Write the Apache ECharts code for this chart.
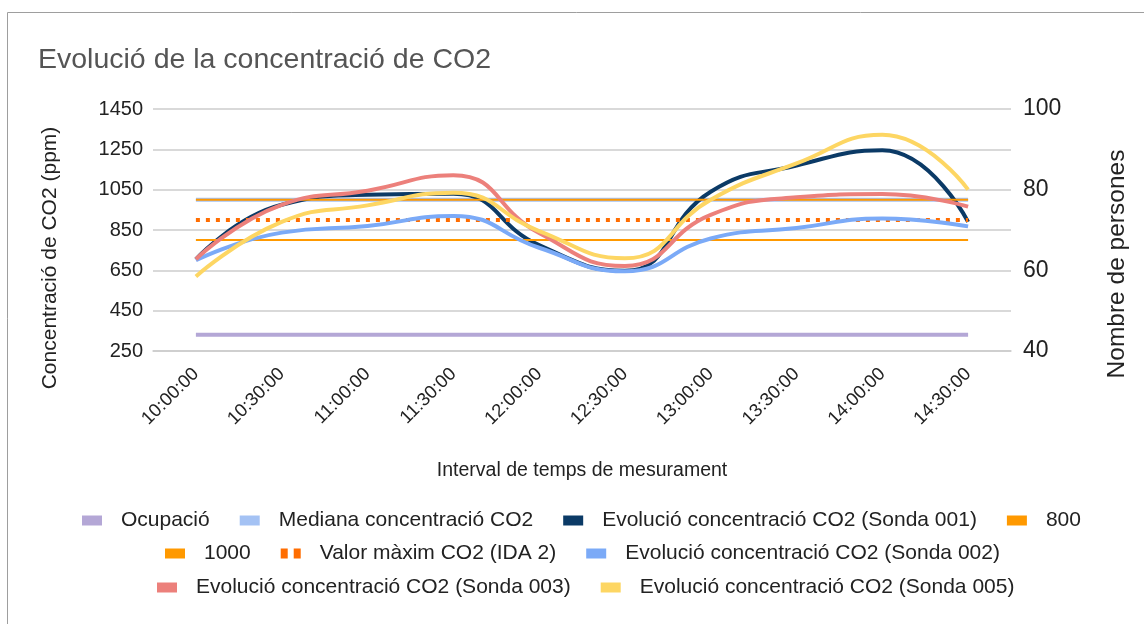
<!DOCTYPE html>
<html>
<head>
<meta charset="utf-8">
<script src="https://cdn.jsdelivr.net/npm/echarts@6/dist/echarts.min.js"></script>
<style>
  html, body { margin: 0; padding: 0; background: #fff; }
  #chart { width: 1144px; height: 624px; }
</style>
</head>
<body>
<div id="chart"></div>
<script>
// dades llegides del gràfic
const categories = ['10:00:00', '10:30:00', '11:00:00', '11:30:00', '12:00:00', '12:30:00', '13:00:00', '13:30:00', '14:00:00', '14:30:00'];
const ocupacio = [44, 44, 44, 44, 44, 44, 44, 44, 44, 44];
const mediana = [1000, 1000, 1000, 1000, 1000, 1000, 1000, 1000, 1000, 1000];
const sonda001 = [705, 975, 1025, 1030, 775, 648, 1040, 1170, 1245, 890];
const limit800 = [800, 800, 800, 800, 800, 800, 800, 800, 800, 800];
const limit1000 = [1000, 1000, 1000, 1000, 1000, 1000, 1000, 1000, 1000, 1000];
const valorMaxim = [900, 900, 900, 900, 900, 900, 900, 900, 900, 900];
const sonda002 = [700, 837, 870, 920, 762, 645, 808, 860, 907, 868];
const sonda003 = [705, 975, 1045, 1122, 835, 672, 925, 1012, 1028, 966];
const sonda005 = [620, 890, 972, 1035, 845, 710, 1000, 1180, 1322, 1050];
const leftTicks = { min: 250, max: 1450, step: 200 };
const rightTicks = { min: 40, max: 100, step: 20 };

const FONT = "'Liberation Sans', Arial, sans-serif";

const lineSerie = (name, data, color, width, extra = {}) => ({
  name,
  type: 'line',
  data,
  color,
  showSymbol: false,
  smooth: extra.smooth ? 0.5 : false,
  yAxisIndex: extra.yAxisIndex || 0,
  lineStyle: { color, width, type: extra.dash || 'solid', cap: 'butt' },
  itemStyle: { color }
});

const legendRow = (left, top, data) => ({
  top,
  left,
  padding: 0,
  icon: 'rect',
  itemWidth: 20,
  itemHeight: 10,
  itemGap: 30,
  data,
  textStyle: { fontFamily: FONT, fontSize: 21, color: '#222', padding: [0, 0, 0, 14] }
});

const chart = echarts.init(document.getElementById('chart'));
const option = {
  animation: false,
  backgroundColor: '#fff',
  graphic: [{
    type: 'rect',
    shape: { x: 7.5, y: 12.5, width: 1200, height: 700 },
    style: { fill: 'none', stroke: '#9e9e9e', lineWidth: 1 }
  }],
  title: {
    text: 'Evolució de la concentració de CO2',
    left: 38,
    top: 46,
    padding: 0,
    textStyle: { fontFamily: FONT, fontSize: 28.5, fontWeight: 'normal', color: '#555' }
  },
  legend: [
    legendRow(82, 510, ['Ocupació', 'Mediana concentració CO2', 'Evolució concentració CO2 (Sonda 001)', '800']),
    legendRow(165, 543, ['1000', { name: 'Valor màxim CO2 (IDA 2)', icon: 'path://M0,0H7V10H0Z M13,0H20V10H13Z' }, 'Evolució concentració CO2 (Sonda 002)']),
    legendRow(157, 577, ['Evolució concentració CO2 (Sonda 003)', 'Evolució concentració CO2 (Sonda 005)'])
  ],
  grid: { left: 153, right: 133, top: 109, bottom: 273 },
  xAxis: {
    type: 'category',
    data: categories,
    boundaryGap: true,
    name: 'Interval de temps de mesurament',
    nameLocation: 'middle',
    nameGap: 110,
    nameTextStyle: { fontFamily: FONT, fontSize: 19.5, color: '#222' },
    axisLine: { show: true, lineStyle: { color: '#ccc', width: 1.5 } },
    axisTick: { show: false },
    axisLabel: { rotate: 45, fontFamily: FONT, fontSize: 18.5, color: '#222', margin: 20 }
  },
  yAxis: [{
    type: 'value',
    min: leftTicks.min,
    max: leftTicks.max,
    interval: leftTicks.step,
    name: 'Concentració de CO2 (ppm)',
    nameLocation: 'middle',
    nameGap: 92,
    nameTextStyle: { fontFamily: FONT, fontSize: 21, color: '#222', padding: [0, 56, 0, 0] },
    axisLine: { show: false },
    axisTick: { show: false },
    axisLabel: { fontFamily: FONT, fontSize: 20, color: '#222', margin: 10, formatter: v => String(v) },
    splitLine: { lineStyle: { color: '#ccc', width: 1.5 } }
  }, {
    type: 'value',
    min: rightTicks.min,
    max: rightTicks.max,
    interval: rightTicks.step,
    name: 'Nombre de persones',
    nameLocation: 'middle',
    nameGap: 94,
    nameTextStyle: { fontFamily: FONT, fontSize: 24.5, color: '#222', padding: [0, 68, 0, 0] },
    axisLine: { show: false },
    axisTick: { show: false },
    axisLabel: { fontFamily: FONT, fontSize: 23, color: '#222', margin: 12 },
    splitLine: { show: false }
  }],
  series: [
    lineSerie('Ocupació', ocupacio, '#b4a7d6', 4, { yAxisIndex: 1 }),
    lineSerie('Mediana concentració CO2', mediana, '#a4c2f4', 4),
    lineSerie('Evolució concentració CO2 (Sonda 001)', sonda001, '#0b3a66', 4, { smooth: true }),
    lineSerie('800', limit800, '#ff9900', 2),
    lineSerie('1000', limit1000, '#ff9900', 2),
    lineSerie('Valor màxim CO2 (IDA 2)', valorMaxim, '#ff6d01', 4, { dash: [4, 6] }),
    lineSerie('Evolució concentració CO2 (Sonda 002)', sonda002, '#7baaf7', 4, { smooth: true }),
    lineSerie('Evolució concentració CO2 (Sonda 003)', sonda003, '#ec807b', 4, { smooth: true }),
    lineSerie('Evolució concentració CO2 (Sonda 005)', sonda005, '#fdd663', 4, { smooth: true })
  ]
};
chart.setOption(option);
</script>
</body>
</html>
